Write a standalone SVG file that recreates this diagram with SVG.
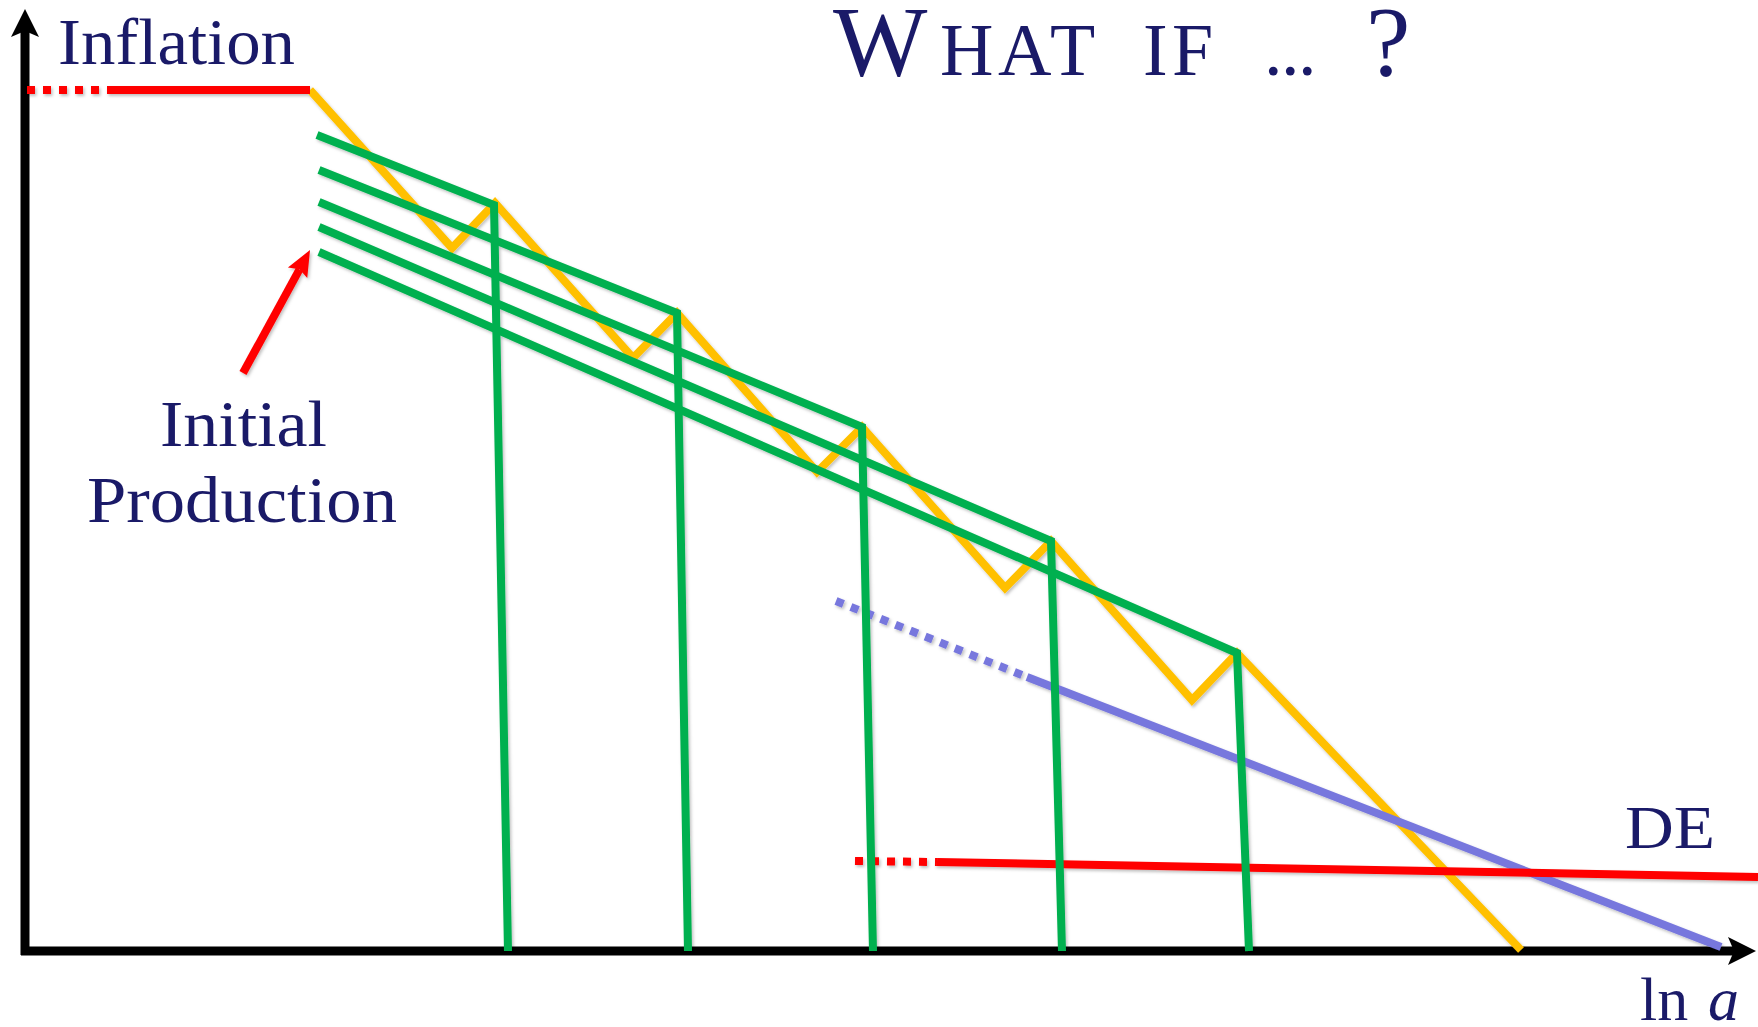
<svg xmlns="http://www.w3.org/2000/svg" width="1758" height="1027" viewBox="0 0 1758 1027">
<style>
.lbl{font-family:"Liberation Serif","Times New Roman",serif;fill:#1a1a68;}
.ln{fill:none;stroke-width:8;stroke-linejoin:miter;stroke-linecap:butt;}
.g{stroke:#00b050;}
.o{stroke:#ffc000;}
.r{stroke:#ff0000;}
.b{stroke:#7777dd;}
.dash{stroke-dasharray:8 8;}
.ax{fill:none;stroke:#000;stroke-width:9;}
</style>
<defs>
<filter id="sh" filterUnits="userSpaceOnUse" x="0" y="0" width="1758" height="1027">
<feDropShadow dx="1.5" dy="2" stdDeviation="1.5" flood-color="#000" flood-opacity="0.25"/>
</filter>
<marker id="axhead" markerUnits="userSpaceOnUse" markerWidth="34" markerHeight="34" viewBox="-8 -17 34 34" refX="0" refY="0" orient="auto">
<path d="M22,0 L-6,-14 L0,0 L-6,14 Z" fill="#000"/>
</marker>
<marker id="redhead" markerUnits="userSpaceOnUse" markerWidth="34" markerHeight="34" viewBox="-8 -17 34 34" refX="0" refY="0" orient="auto">
<path d="M22,0 L-4,-11 L0,0 L-4,11 Z" fill="#ff0000"/>
</marker>
</defs>
<rect width="1758" height="1027" fill="#fff"/>

<g id="axes">
<line class="ax" x1="25" y1="955" x2="25" y2="31" marker-end="url(#axhead)"/>
<line class="ax" x1="21" y1="951" x2="1734" y2="951" marker-end="url(#axhead)"/>
</g>

<g id="curves" filter="url(#sh)">
<g id="yellow-curve">
<polyline class="ln o" points="310,90 452,248 495,203 633,358 677,313 817,472 862,427 1005,588 1051,541 1192,700 1237,653 1521,950"/>
</g>
<g id="blue-curve">
<line class="ln b dash" x1="836" y1="601" x2="1027" y2="677"/>
<line class="ln b" x1="1027" y1="677" x2="1721" y2="947"/>
</g>
<g id="red-inflation">
<line class="ln r dash" x1="27" y1="90" x2="113" y2="90"/>
<line class="ln r" x1="113" y1="90" x2="310" y2="90"/>
</g>
<g id="red-de">
<line class="ln r dash" x1="855" y1="861" x2="937" y2="862"/>
<line class="ln r" x1="937" y1="862" x2="1758" y2="877"/>
</g>
<g id="green-lines">
<polyline class="ln g" points="317,135 494,205 508,951"/>
<polyline class="ln g" points="319,170 677,313 688,951"/>
<polyline class="ln g" points="319,202 862,427 873,951"/>
<polyline class="ln g" points="319,227 1051,541 1062,951"/>
<polyline class="ln g" points="319,252 1237,653 1249,951"/>
</g>
</g>

<g id="connectors" filter="url(#sh)">
<line class="ln r" x1="243" y1="373" x2="299.5" y2="269.3" marker-end="url(#redhead)"/>
</g>

<g id="title">
<text class="lbl" y="75"><tspan x="833" font-size="100">W</tspan><tspan x="940 998 1050" font-size="74">HAT</tspan><tspan x="1143 1172" font-size="74">IF</tspan><tspan x="1264 1281 1298" font-size="74">...</tspan><tspan x="1366" font-size="100">?</tspan></text>
</g>

<g id="label-inflation">
<text class="lbl" x="58" y="64" font-size="66" textLength="237" lengthAdjust="spacingAndGlyphs">Inflation</text>
</g>

<g id="label-initial-production">
<text class="lbl" x="160" y="446" font-size="66" textLength="167" lengthAdjust="spacingAndGlyphs">Initial</text>
<text class="lbl" x="87" y="522" font-size="66" textLength="310" lengthAdjust="spacingAndGlyphs">Production</text>
</g>

<g id="label-de">
<text class="lbl" x="1625" y="848" font-size="62" textLength="90" lengthAdjust="spacingAndGlyphs">DE</text>
</g>

<g id="label-lna">
<text class="lbl" y="1020" font-size="62"><tspan x="1640">ln</tspan><tspan x="1708" font-style="italic">a</tspan></text>
</g>
</svg>
